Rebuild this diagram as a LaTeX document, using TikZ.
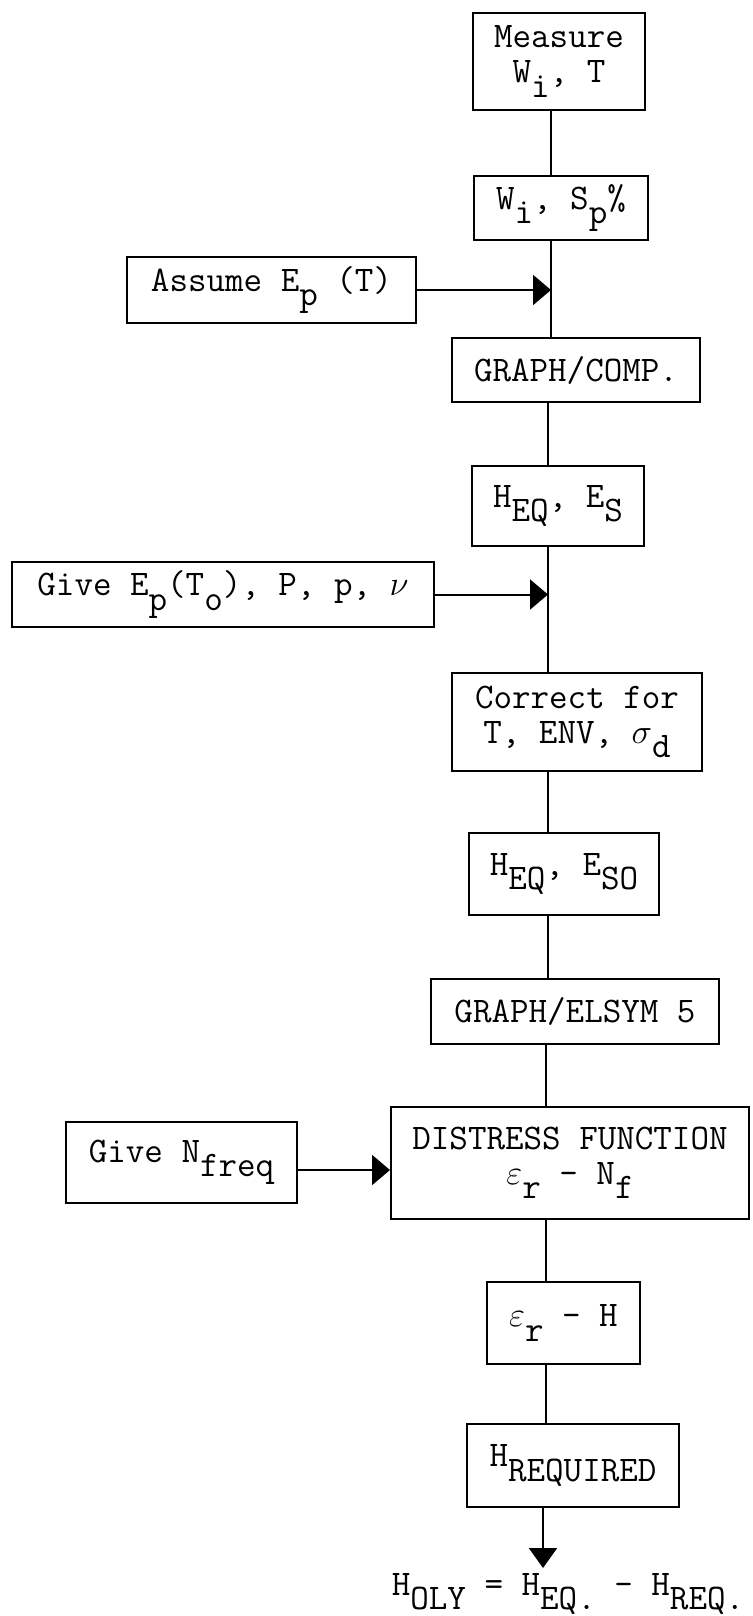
\documentclass[tikz,border=0pt]{standalone}
\usepackage{fontspec}
\usetikzlibrary{arrows.meta}
\newcommand{\lowr}[1]{\raisebox{-0.4em}{#1}}
\begin{document}
\begin{tikzpicture}[x=0.5pt,y=-0.5pt,
  box/.style={draw, line width=1pt, inner sep=0pt, align=center,
    font=\ttfamily\fontsize{18}{17.5}\selectfont},
  conn/.style={line width=1pt},
  arr/.style={line width=1pt, -{Triangle[length=9pt,width=15pt]}}]
\useasboundingbox (0,0) rectangle (752,1616);
\coordinate (L1) at (551,0);
\coordinate (L2) at (548,0);
\coordinate (L3) at (546,0);
\coordinate (L4) at (543,0);

\node[box, minimum width=86pt, minimum height=48.5pt] (meas) at (559,61.5) {Measure\\W\lowr{i}, T};
\node[box, minimum width=87pt, minimum height=32pt] (wi) at (561,208) {W\lowr{i}, S\lowr{p}\%};
\node[box, minimum width=144.5pt, minimum height=33pt] (assume) at (271.5,290) {Assume E\lowr{p} (T)};
\node[box, minimum width=124pt, minimum height=32pt] (gcomp) at (576,370) {GRAPH/COMP.};
\node[box, minimum width=86pt, minimum height=40pt] (heqes) at (558,506) {H\lowr{EQ}, E\lowr{S}};
\node[box, minimum width=211pt, minimum height=32.5pt] (give) at (223,594.5) {Give E\lowr{p}(T\lowr{o}), P, p, $\nu$};
\node[box, minimum width=125pt, minimum height=49pt] (corr) at (577,722) {Correct for\\T, ENV, $\sigma$\lowr{d}};
\node[box, minimum width=95pt, minimum height=41pt] (heqeso) at (564,874) {H\lowr{EQ}, E\lowr{SO}};
\node[box, minimum width=144pt, minimum height=32.5pt] (gelsym) at (575,1011.5) {GRAPH/ELSYM 5};
\node[box, minimum width=179pt, minimum height=56pt] (dist) at (570,1163) {DISTRESS FUNCTION\\$\varepsilon$\lowr{r} - N\lowr{f}};
\node[box, minimum width=115.5pt, minimum height=40.5pt] (givn) at (181.5,1162.5) {Give N\lowr{freq}};
\node[box, minimum width=76.5pt, minimum height=41pt] (erh) at (563.5,1323) {$\varepsilon$\lowr{r} - H};
\node[box, minimum width=106pt, minimum height=41.5pt] (hreq) at (573,1465.5) {H\lowr{REQUIRED}};
\node[font=\ttfamily\fontsize{18}{16}\selectfont, anchor=base, inner sep=0pt] (res) at (568,1595) {H\lowr{OLY} = H\lowr{EQ.} - H\lowr{REQ.}};
\coordinate (tip) at (543,1568);

\draw[conn] (meas.south -| L1) -- (wi.north -| L1);
\draw[conn] (wi.south -| L1) -- (gcomp.north -| L1);
\draw[arr] (assume.east) -- (assume.east -| L1);
\draw[conn] (gcomp.south -| L2) -- (heqes.north -| L2);
\draw[conn] (heqes.south -| L2) -- (corr.north -| L2);
\draw[arr] (give.east) -- (give.east -| L2);
\draw[conn] (corr.south -| L2) -- (heqeso.north -| L2);
\draw[conn] (heqeso.south -| L2) -- (gelsym.north -| L2);
\draw[conn] (gelsym.south -| L3) -- (dist.north -| L3);
\draw[arr] ([yshift=-3.75pt]givn.east) -- ([yshift=-3.75pt]givn.east -| dist.west);
\draw[conn] (dist.south -| L3) -- (erh.north -| L3);
\draw[conn] (erh.south -| L3) -- (hreq.north -| L3);
\draw[line width=1pt, -{Triangle[length=10pt,width=14pt]}] (hreq.south -| L4) -- (tip);
\end{tikzpicture}
\end{document}
